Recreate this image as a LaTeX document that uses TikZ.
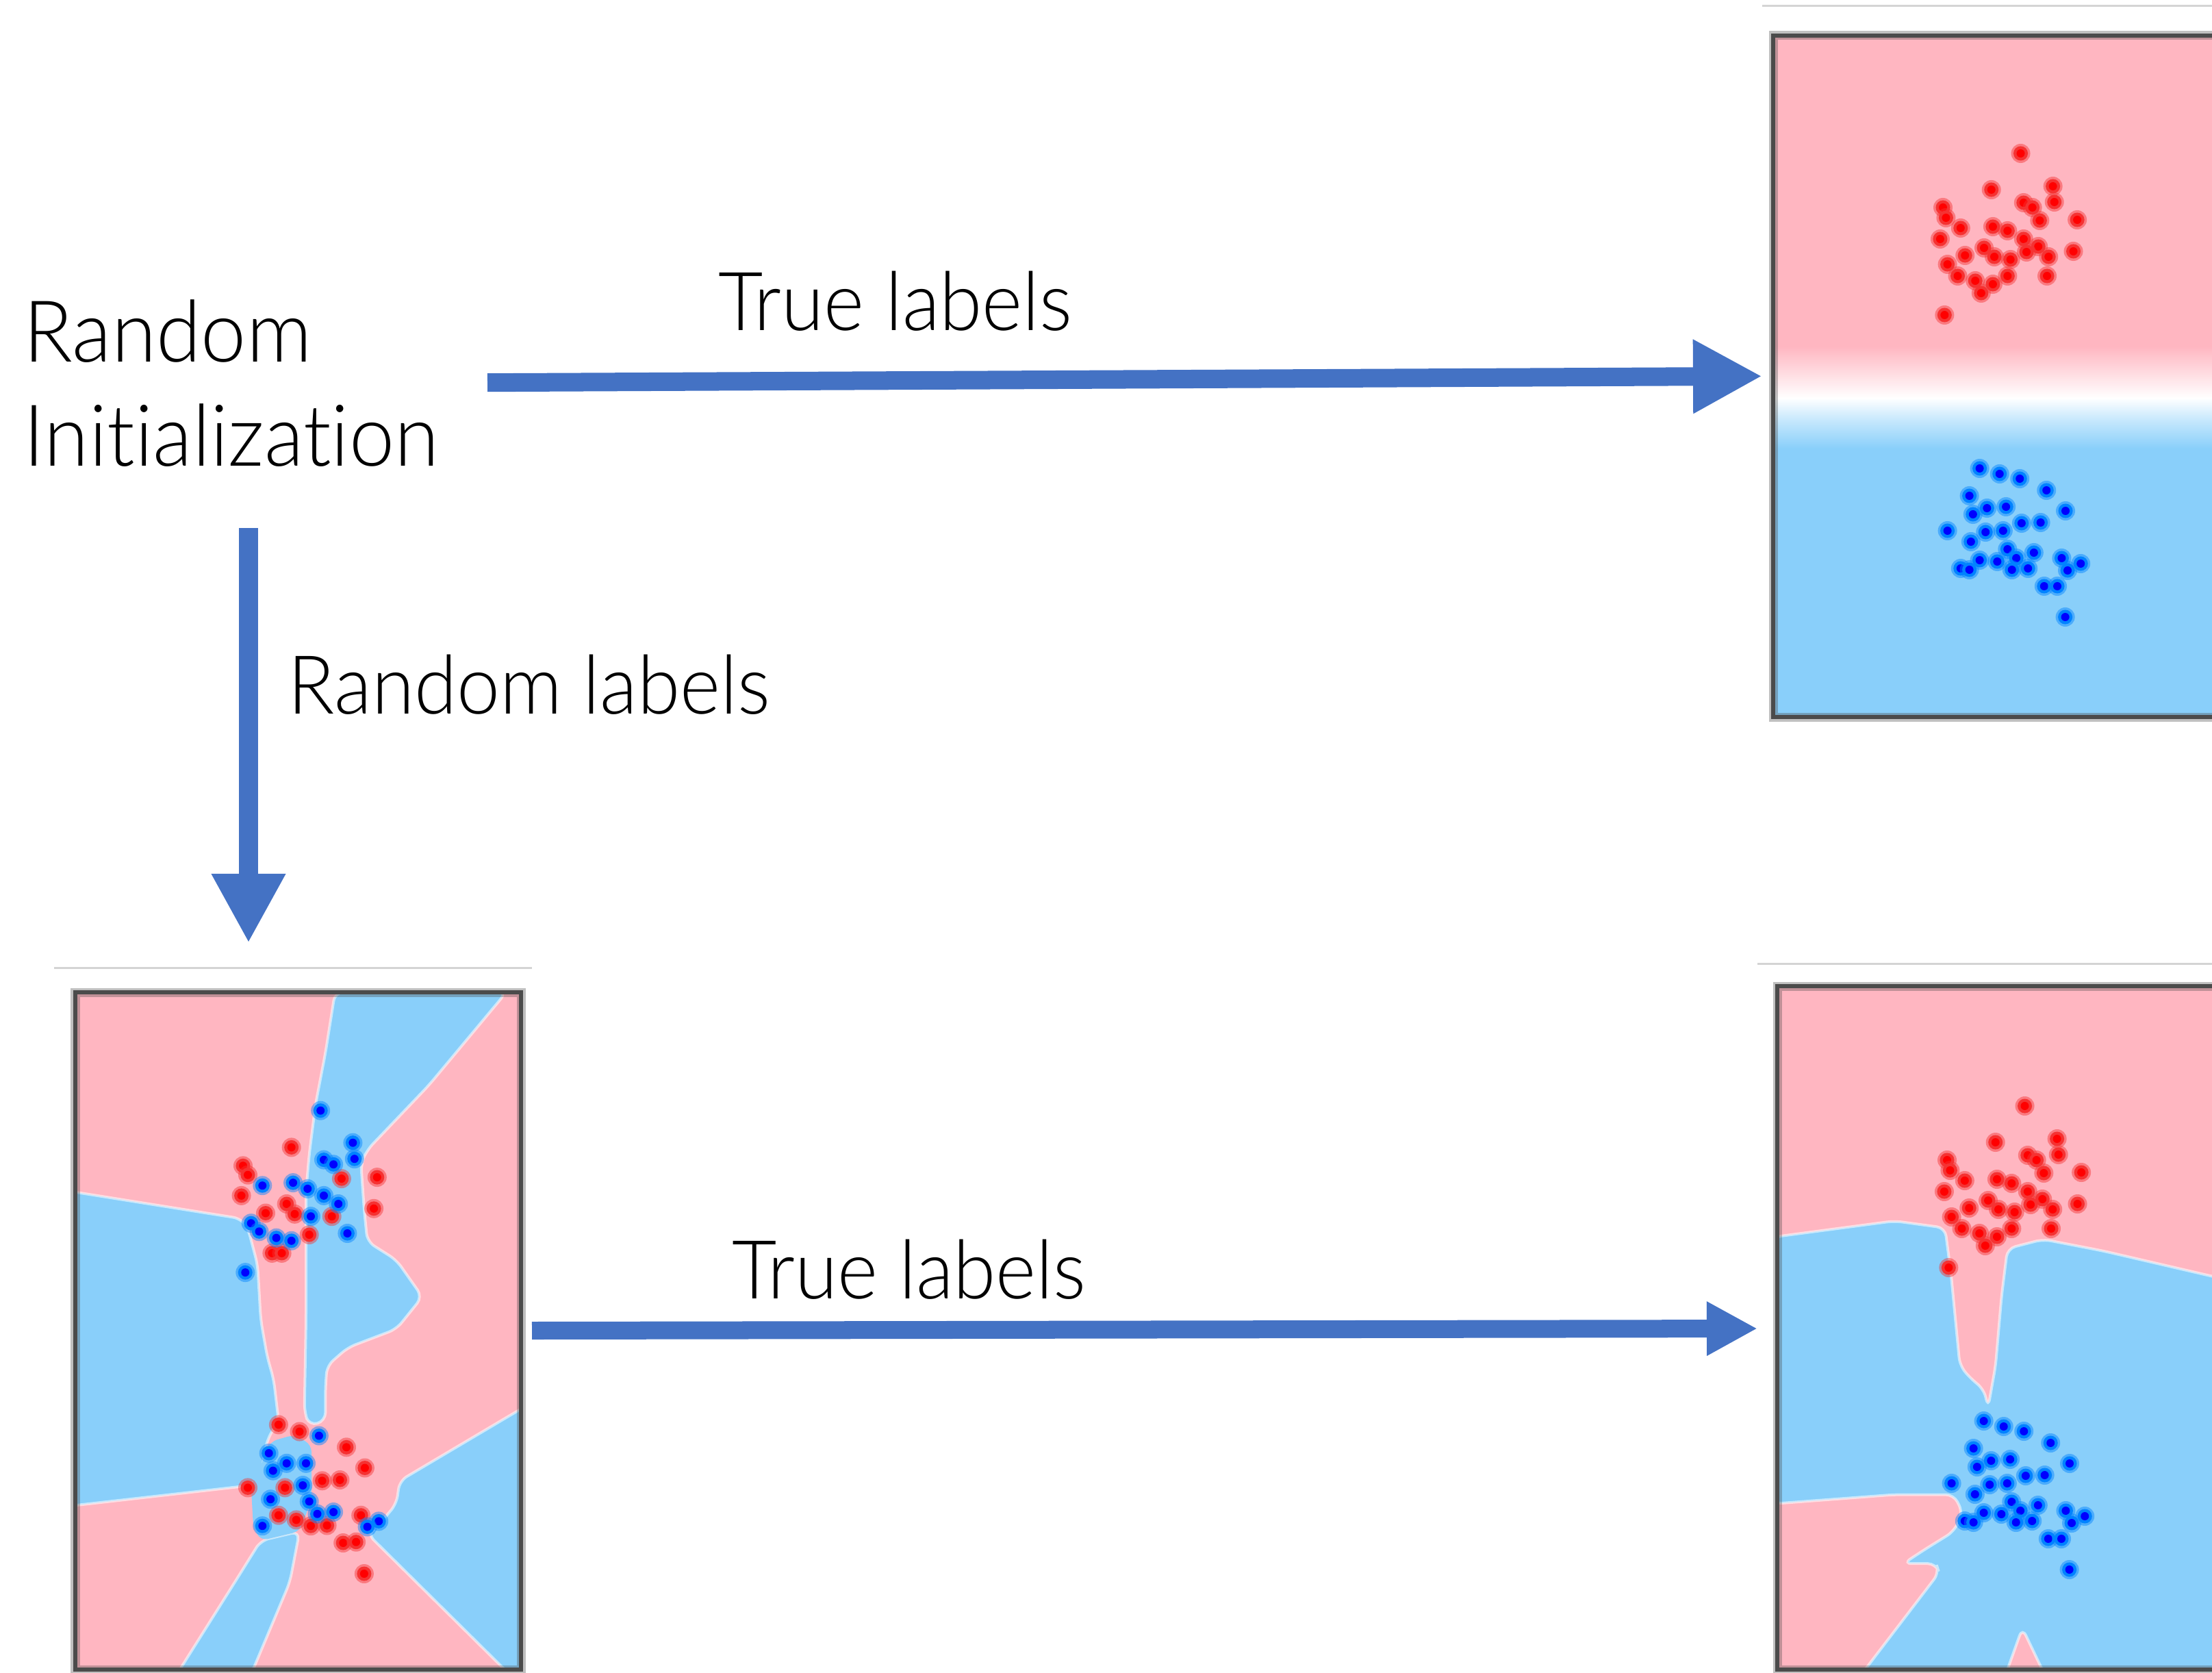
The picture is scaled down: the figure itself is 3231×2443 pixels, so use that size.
\documentclass[tikz,border=0pt]{standalone}
\usepackage{fontspec}
\setmainfont{Lato Light}[Ligatures=NoCommon, FakeStretch=0.95]
\usetikzlibrary{arrows.meta}
\definecolor{pinkc}{RGB}{255,182,193}
\definecolor{skyb}{RGB}{137,207,250}
\definecolor{arrowb}{RGB}{68,114,196}
\definecolor{framec}{RGB}{75,75,75}
\definecolor{rulec}{RGB}{212,212,212}
\definecolor{rhalo}{RGB}{245,50,50}
\definecolor{rcore}{RGB}{255,0,0}
\definecolor{bhalo}{RGB}{0,130,255}
\definecolor{bcore}{RGB}{0,0,255}
\colorlet{midblue}{skyb!45!white}
\pgfdeclareverticalshading{trshade}{100bp}{color(0bp)=(skyb); color(44.7bp)=(skyb); color(46.9bp)=(midblue); color(48.4bp)=(white); color(52.2bp)=(pinkc); color(100bp)=(pinkc)}
\newcommand\RedDots[1]{\foreach \px/\py in {#1}{\fill[rhalo, opacity=0.45] (\px,\py) circle (1.4mm); \fill[rhalo] (\px,\py) circle (1.05mm); \fill[rcore] (\px,\py) circle (0.6mm);}}
\newcommand\BlueDots[1]{\foreach \px/\py in {#1}{\fill[bhalo, opacity=0.45] (\px,\py) circle (1.4mm); \fill[bhalo] (\px,\py) circle (1.05mm); \fill[bcore] (\px,\py) circle (0.6mm);}}
\begin{document}
\begin{tikzpicture}[x=0.01cm,y=-0.01cm,
  lbl/.style={font=\fontsize{33.8}{40}\selectfont, inner sep=0, anchor=base west},
  biglbl/.style={font=\fontsize{35.5}{43}\selectfont, inner sep=0, anchor=base west},
  bigarrow/.style={draw=arrowb, line width=0.27cm, -{Triangle[length=1.01cm,width=1.01cm]}},
  smallarrow/.style={draw=arrowb, line width=0.26cm, -{Triangle[length=0.74cm,width=0.74cm]}},
  panelframe/.style={draw=framec, line width=0.065cm, preaction={draw=framec, draw opacity=0.35, line width=0.13cm}},
  toprule/.style={draw=rulec, line width=0.03cm},
  bluezone/.style={fill=skyb, draw=white, draw opacity=0.55, line width=0.04cm, rounded corners=0.12cm}]
\useasboundingbox (0,0) rectangle (3231,2443);
\begin{scope}
\clip (0,0) rectangle (3231,2443);

% ---------------- texts ----------------
\node[biglbl] (init1) at (34,529) {Random};
\node[biglbl] (init2) at (34,680) {Initialization};
\node[lbl] (truetop) at (1049,483) {True labels};
\node[lbl] (randlab) at (420,1042) {Random labels};
\node[lbl] (truebot) at (1069,1896) {True labels};

% ---------------- top-right panel ----------------
\draw[toprule] (2574,9) -- (3231,9);
\shade[shading=trshade] (2590,52) rectangle (3243,1047);
\RedDots{2951.5/224, 2908.7/277, 2998.6/272, 3000.7/295, 2955.8/296, 2968.6/303, 2838/303, 2842.4/318, 2863.8/333, 2910.9/331, 2932.3/337, 2979.3/322, 3034.1/321, 2833.9/349, 2955.8/349, 2977.2/360, 2898/362, 2870.2/373, 2913/375, 2936.6/379, 2992.2/375, 3028.5/367, 2844.6/386, 2859.5/403, 2885.2/410, 2910.9/415, 2932.3/403, 2990/403, 2893.8/428, 2840.3/460, 2960/368}
\BlueDots{2891.6/684, 2920.7/692, 2950.2/699, 2989.2/716, 2876.6/724, 2930.1/740, 2902.3/742, 3017/746, 2881.8/751, 2952.8/764, 2980.6/763, 2844.6/775, 2900.2/777, 2925.8/775, 2878.8/791, 2932.3/802, 2970.8/807, 2891.6/818, 2917.3/820, 2945.1/815, 3011.4/815, 3039.2/823, 2863.8/830, 2876.6/832, 2938.7/832, 2962.2/830, 3020/833, 2985.8/856, 3005/856, 3016.6/901}
\draw[panelframe] (3243,52) -- (2590,52) -- (2590,1047) -- (3243,1047);
\coordinate (trW) at (2574,549.3);

% ---------------- bottom-left panel ----------------
\draw[toprule] (79,1413) -- (777,1413);
\begin{scope}
\clip (110,1449) rectangle (761,2438);
\fill[pinkc] (110,1449) rectangle (761,2438);
\path[bluezone] (489.4,1449) -- (475.3,1537.7) -- (461.1,1611.6) -- (451.7,1685.5) -- (447,1739.2) -- (447,1826.5) -- (447,1927.3) -- (444.6,2061.6) -- (451.7,2081.7) -- (475.3,2075) -- (475.3,2028) -- (477.6,1994.4) -- (508.3,1967.6) -- (579.1,1940.7) -- (616.9,1893.7) -- (579.1,1840) -- (536.6,1813.1) -- (531.9,1766.1) -- (527.2,1698.9) -- (536.6,1678.8) -- (626.3,1584.8) -- (739.6,1449) -- cycle;
\path[bluezone] (100,1739.2) -- (352.6,1779.5) -- (362,1793) -- (376.2,1846.7) -- (380.9,1927.3) -- (390.3,1981) -- (399.8,2014.6) -- (406.9,2075) -- (390.3,2101.9) -- (380.9,2155.6) -- (366.7,2169) -- (100,2199.3) -- cycle;
\path[bluezone] (380.9,2249.6) -- (343.2,2310) -- (258.2,2445) -- (366.7,2445) -- (423.4,2310) -- (437.5,2236.2) -- cycle;
\path[bluezone] (770,2052) -- (583.8,2162.3) -- (579.1,2195.9) -- (550.8,2229.5) -- (536.6,2239.6) -- (744.3,2445) -- (770,2445) -- cycle;
\fill[skyb, rounded corners=0.1cm] (366.7,2169) -- (380.9,2140) -- (395,2105) -- (430,2095) -- (455,2110) -- (455,2190) -- (437.5,2236.2) -- (380.9,2249.6) -- (370,2230) -- cycle;
\end{scope}
\RedDots{425.7/1675.4, 355/1702.3, 362/1715.7, 550.8/1719.1, 498.9/1721.1, 352.6/1745.9, 418.7/1758, 430.5/1772.8, 388/1771.5, 546.1/1764.8, 484.7/1776.2, 451.7/1803, 397.4/1829.9, 411.6/1829.9}
\BlueDots{468.2/1621.7, 515.4/1668.7, 517.8/1692.2, 473/1693.6, 487.1/1700.3, 383.3/1731.2, 428.1/1727.1, 449.3/1735.9, 473/1745.9, 494.2/1758, 454/1776.2, 366.7/1786.2, 378.5/1798.3, 403.6/1807.7, 425.7/1811.8, 507.4/1801, 358.3/1858.1}
\RedDots{406.9/2080.4, 437.5/2090.5, 506/2113.3, 532.9/2143.5, 470.6/2162.3, 496.5/2161, 362/2172.4, 416.3/2172.4, 406.9/2212.7, 527.2/2212.7, 432.8/2219.4, 477.6/2227.5, 454/2228.2, 501.2/2253, 520.1/2251.7, 531.9/2298}
\BlueDots{465.9/2096.5, 392.7/2122, 418.7/2136.8, 447/2136.8, 398.8/2147.6, 442.3/2169, 395.1/2189.2, 451.7/2192.5, 487.1/2208, 463.5/2210.7, 383.3/2228.2, 553.2/2221.4, 536.6/2229.5}
\draw[panelframe] (110,1449) rectangle (761,2438);
\coordinate (blN) at (363,1377);
\coordinate (blE) at (777,1943);

% ---------------- bottom-right panel ----------------
\draw[toprule] (2567,1407) -- (3231,1407);
\begin{scope}
\clip (2596,1440) rectangle (3243,2438);
\fill[pinkc] (2596,1440) rectangle (3243,2438);
\path[bluezone] (2590,1806.4) -- (2767.2,1782.9) -- (2841,1793) -- (2849.7,1860.1) -- (2862.7,1994.4) -- (2880,2014.6) -- (2897.4,2028) -- (2904,2054.9) -- (2914.8,1994.4) -- (2923.5,1893.7) -- (2932.2,1823.2) -- (2984.3,1809.7) -- (3071.2,1826.5) -- (3250,1868) -- (3250,2450) -- (2988.7,2450) -- (2953.9,2377.2) -- (2927.9,2450) -- (2715,2450) -- (2832.3,2296.6) -- (2828,2283.2) -- (2780.2,2283.2) -- (2810.6,2263.1) -- (2854,2236.2) -- (2867,2209.3) -- (2854,2182.5) -- (2767.2,2182.5) -- (2590,2195.9) -- cycle;
\end{scope}
\begin{scope}[shift={(6,1391)}]
\RedDots{2951.5/224, 2908.7/277, 2998.6/272, 3000.7/295, 2955.8/296, 2968.6/303, 2838/303, 2842.4/318, 2863.8/333, 2910.9/331, 2932.3/337, 2979.3/322, 3034.1/321, 2833.9/349, 2955.8/349, 2977.2/360, 2898/362, 2870.2/373, 2913/375, 2936.6/379, 2992.2/375, 3028.5/367, 2844.6/386, 2859.5/403, 2885.2/410, 2910.9/415, 2932.3/403, 2990/403, 2893.8/428, 2840.3/460, 2960/368}
\BlueDots{2891.6/684, 2920.7/692, 2950.2/699, 2989.2/716, 2876.6/724, 2930.1/740, 2902.3/742, 3017/746, 2881.8/751, 2952.8/764, 2980.6/763, 2844.6/775, 2900.2/777, 2925.8/775, 2878.8/791, 2932.3/802, 2970.8/807, 2891.6/818, 2917.3/820, 2945.1/815, 3011.4/815, 3039.2/823, 2863.8/830, 2876.6/832, 2938.7/832, 2962.2/830, 3020/833, 2985.8/856, 3005/856, 3016.6/901}
\end{scope}
\draw[panelframe] (3243,1440) -- (2596,1440) -- (2596,2438) -- (3243,2438);
\coordinate (brW) at (2567,1940);

% ---------------- arrows ----------------
\coordinate (a1s) at (712,558.7);
\coordinate (a2s) at (363,771);
\draw[bigarrow] (a1s) -- (trW);
\draw[bigarrow] (a2s) -- (blN);
\draw[smallarrow] (blE) -- (brW);
\end{scope}
\end{tikzpicture}
\end{document}
